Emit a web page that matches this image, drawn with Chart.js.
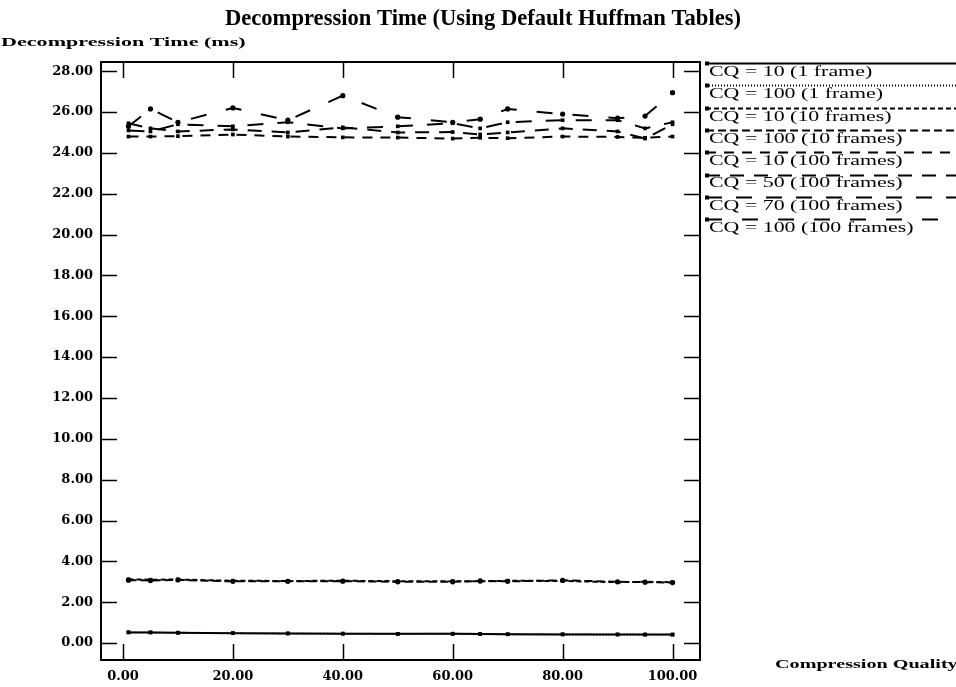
<!DOCTYPE html>
<html>
<head>
<meta charset="utf-8">
<script src="https://cdn.jsdelivr.net/npm/chart.js@4.4.1/dist/chart.umd.min.js"></script>
<style>
  html, body { margin: 0; padding: 0; background: #ffffff; }
  #wrap { position: relative; width: 956px; height: 687px; }
  canvas { display: block; }
</style>
</head>
<body>
<div id="wrap"><canvas id="c" width="956" height="687"></canvas></div>
<script>
// Compression quality settings that were measured
const quality = [1, 5, 10, 20, 30, 40, 50, 60, 65, 70, 80, 90, 95, 100];

// Decompression time in ms for each run configuration
const cq10_1frame    = [0.52, 0.52, 0.51, 0.48, 0.47, 0.46, 0.45, 0.45, 0.44, 0.43, 0.42, 0.42, 0.42, 0.42];
const cq100_1frame   = [0.53, 0.52, 0.50, 0.49, 0.47, 0.46, 0.44, 0.46, 0.45, 0.43, 0.43, 0.42, 0.41, 0.41];
const cq10_10frames  = [3.12, 3.10, 3.11, 3.05, 3.04, 3.05, 3.03, 3.03, 3.02, 3.05, 3.04, 2.98, 3.00, 2.98];
const cq100_10frames = [3.08, 3.06, 3.09, 3.02, 3.02, 3.03, 3.00, 3.00, 3.04, 3.02, 3.07, 3.00, 2.98, 2.96];
const cq10_100frames = [24.80, 24.80, 24.82, 24.90, 24.80, 24.76, 24.75, 24.70, 24.74, 24.72, 24.80, 24.78, 24.74, 24.80];
const cq50_100frames = [25.45, 25.20, 25.05, 25.15, 25.00, 25.25, 25.00, 25.02, 24.90, 25.00, 25.20, 25.05, 24.70, 25.40];
const cq70_100frames = [25.10, 25.05, 25.40, 25.30, 25.50, 25.20, 25.30, 25.45, 25.20, 25.50, 25.60, 25.60, 25.20, 25.50];
const cq100_100frames = [25.30, 26.15, 25.50, 26.20, 25.60, 26.80, 25.75, 25.50, 25.65, 26.15, 25.90, 25.70, 25.80, 26.95];

const seriesLabels = [
  'CQ = 10 (1 frame)', 'CQ = 100 (1 frame)', 'CQ = 10 (10 frames)', 'CQ = 100 (10 frames)',
  'CQ = 10 (100 frames)', 'CQ = 50 (100 frames)', 'CQ = 70 (100 frames)', 'CQ = 100 (100 frames)'
];
const seriesValues = [cq10_1frame, cq100_1frame, cq10_10frames, cq100_10frames,
                      cq10_100frames, cq50_100frames, cq70_100frames, cq100_100frames];

const xTickValues = [0, 20, 40, 60, 80, 100];
const yTickValues = [0, 2, 4, 6, 8, 10, 12, 14, 16, 18, 20, 22, 24, 26, 28];

// line patterns, one per series, from solid to the longest dashes
const dashes = [[], [1, 2], [5, 3], [8, 4], [10, 8], [14, 10], [16, 14], [16, 20]];
const markers = ['rect', 'rect', 'rect', 'circle', 'rect', 'rect', 'rect', 'circle'];

const SERIF = '"Liberation Serif", "DejaVu Serif", serif';
const WIDE_SERIF = '"DejaVu Serif", "Liberation Serif", serif';

const datasets = seriesLabels.map((label, i) => ({
  label,
  data: quality.map((q, j) => ({ x: q, y: seriesValues[i][j] })),
  borderColor: '#000',
  backgroundColor: '#000',
  borderWidth: 2,
  borderDash: dashes[i],
  pointStyle: markers[i],
  pointRadius: 2.6,
  pointBorderWidth: 0,
  tension: 0,
  fill: false
}));

// horizontally stretched text, left edge at x
function wideText(ctx, text, x, y, sx) {
  ctx.save();
  ctx.translate(x, y);
  ctx.scale(sx, 1);
  ctx.textAlign = 'left';
  ctx.fillText(text, 0, 0);
  ctx.restore();
}

// box around the plot with inward tick marks on all four sides
const framePlugin = {
  id: 'frame',
  afterDatasetsDraw(chart) {
    const { ctx, chartArea: a, scales } = chart;
    ctx.save();
    ctx.strokeStyle = '#000';
    ctx.lineWidth = 2;
    ctx.setLineDash([]);
    ctx.strokeRect(a.left, a.top, a.right - a.left, a.bottom - a.top);
    ctx.lineWidth = 1.5;
    ctx.beginPath();
    yTickValues.forEach(v => {
      const y = Math.round(scales.y.getPixelForValue(v)) + 0.5;
      ctx.moveTo(a.left, y); ctx.lineTo(a.left + 16, y);
      ctx.moveTo(a.right, y); ctx.lineTo(a.right - 16, y);
    });
    xTickValues.forEach(v => {
      const x = Math.round(scales.x.getPixelForValue(v)) + 0.5;
      ctx.moveTo(x, a.bottom); ctx.lineTo(x, a.bottom - 16);
      ctx.moveTo(x, a.top); ctx.lineTo(x, a.top + 16);
    });
    ctx.stroke();
    ctx.restore();
  }
};

// titles and the legend column on the right
const textPlugin = {
  id: 'texts',
  afterDraw(chart) {
    const { ctx } = chart;
    ctx.save();
    ctx.fillStyle = '#000';
    ctx.textBaseline = 'middle';

    ctx.font = 'bold 22.6px ' + SERIF;
    ctx.textAlign = 'center';
    ctx.fillText('Decompression Time (Using Default Huffman Tables)', 483, 19);

    ctx.font = 'bold 13px ' + SERIF;
    wideText(ctx, 'Decompression Time (ms)', 1, 43, 1.7);
    wideText(ctx, 'Compression Quality', 775, 665, 1.55);

    ctx.font = '15px ' + SERIF;
    chart.data.datasets.forEach((ds, i) => {
      const cy = 72 + i * 22.3;
      const ly = Math.round(cy - 9) + 0.5;
      ctx.strokeStyle = '#000';
      ctx.lineWidth = 2;
      ctx.setLineDash(ds.borderDash);
      ctx.beginPath();
      ctx.moveTo(706, ly);
      ctx.lineTo(956, ly);
      ctx.stroke();
      ctx.setLineDash([]);
      ctx.fillRect(705, ly - 2, 4, 4);
      wideText(ctx, ds.label, 709, cy, 1.46);
    });
    ctx.restore();
  }
};

const tickFont = { family: WIDE_SERIF, size: 13, weight: 'bold' };

new Chart(document.getElementById('c'), {
  type: 'line',
  data: { datasets },
  options: {
    responsive: false,
    animation: false,
    devicePixelRatio: 1,
    layout: { padding: { left: 0, right: 256, top: 62, bottom: 0 } },
    plugins: { legend: { display: false }, title: { display: false }, tooltip: { enabled: false } },
    scales: {
      x: {
        type: 'linear',
        min: -4,
        max: 105,
        afterBuildTicks: s => { s.ticks = xTickValues.map(v => ({ value: v })); },
        afterFit: s => { s.height = 27; },
        grid: { display: false, drawTicks: false },
        border: { display: false },
        ticks: {
          color: '#000',
          padding: 9,
          maxRotation: 0,
          autoSkip: false,
          font: tickFont,
          callback: v => Number(v).toFixed(2)
        }
      },
      y: {
        type: 'linear',
        min: -0.83,
        max: 28.45,
        afterBuildTicks: s => { s.ticks = yTickValues.map(v => ({ value: v })); },
        afterFit: s => { s.width = 101; },
        grid: { display: false, drawTicks: false },
        border: { display: false },
        ticks: {
          color: '#000',
          padding: 8,
          autoSkip: false,
          font: tickFont,
          callback: v => Number(v).toFixed(2)
        }
      }
    }
  },
  plugins: [framePlugin, textPlugin]
});
</script>
</body>
</html>
